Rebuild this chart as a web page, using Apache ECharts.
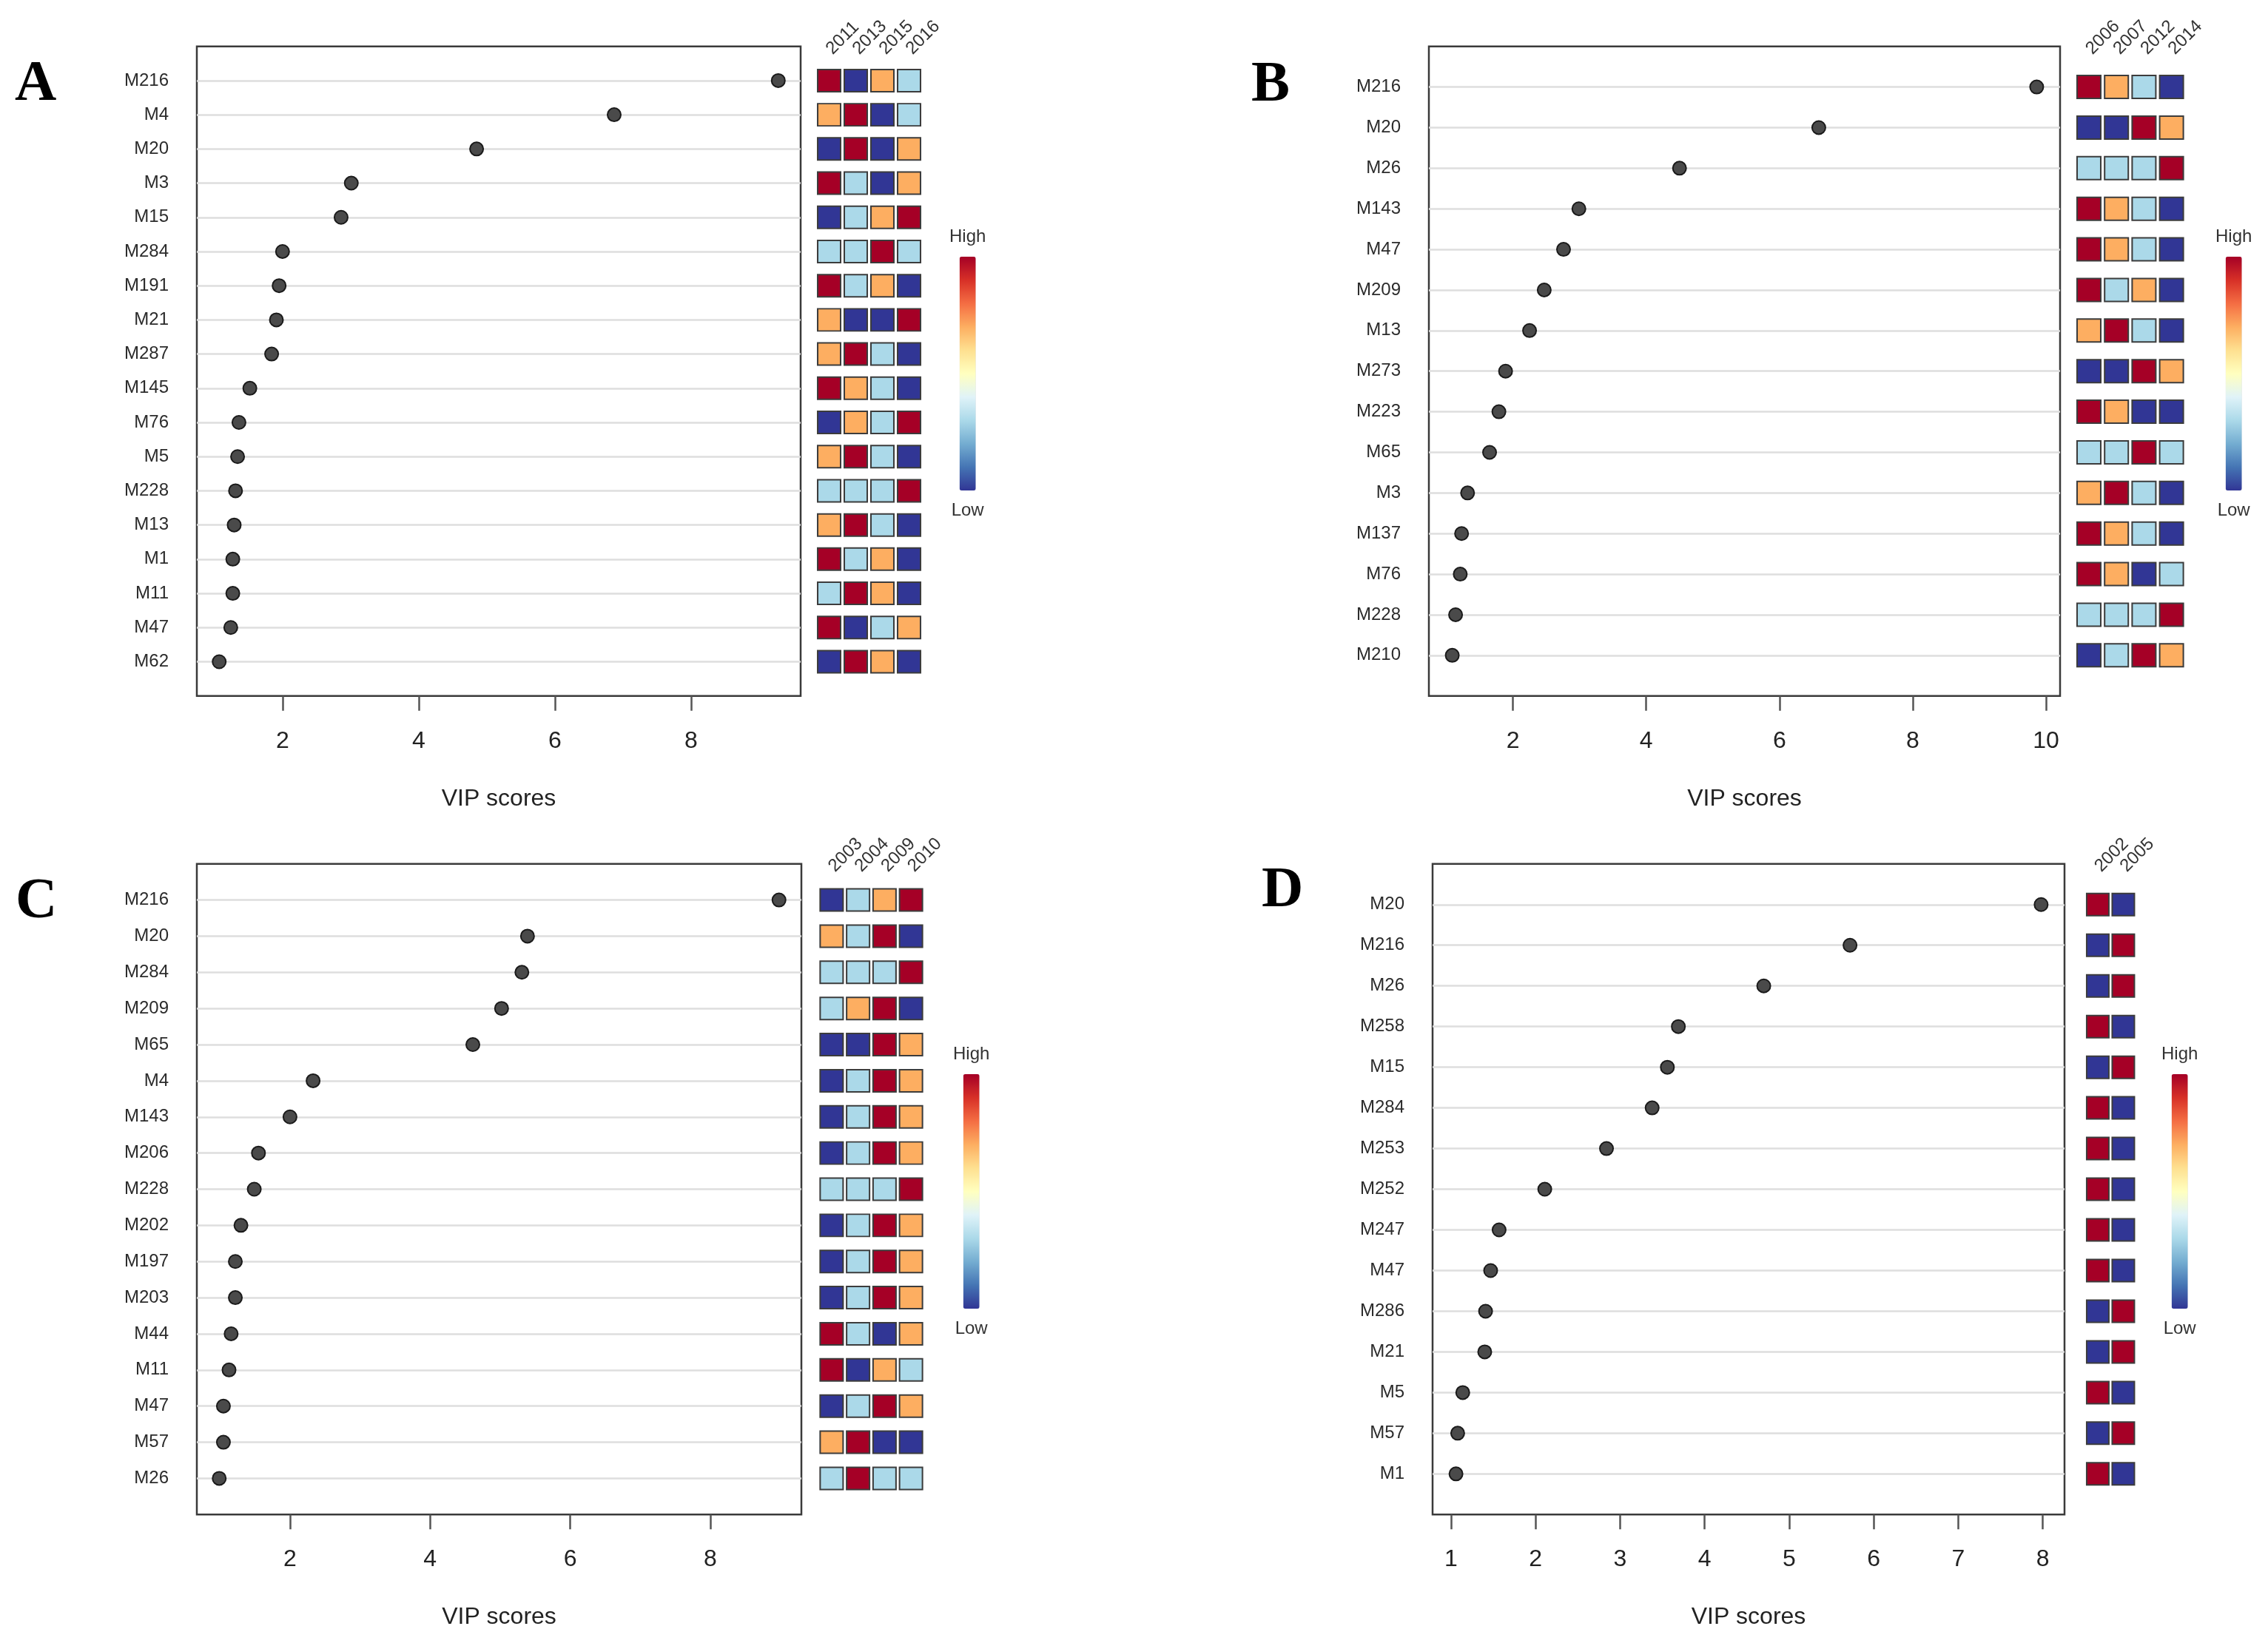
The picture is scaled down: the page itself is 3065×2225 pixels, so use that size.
<!DOCTYPE html>
<html>
<head>
<meta charset="utf-8">
<script src="https://cdn.jsdelivr.net/npm/echarts@6/dist/echarts.min.js"></script>
<style>
html,body{margin:0;padding:0;background:#fff;}
#chart{width:3065px;height:2225px;}
</style>
</head>
<body>
<div id="chart"></div>
<script>
// ---------- DATA ----------
const namesA = ['M216','M4','M20','M3','M15','M284','M191','M21','M287','M145','M76','M5','M228','M13','M1','M11','M47','M62'];
const vipA = [9.28, 6.87, 4.85, 3.01, 2.86, 2.00, 1.95, 1.91, 1.84, 1.52, 1.36, 1.34, 1.31, 1.29, 1.27, 1.27, 1.24, 1.07];
const yearsA = ['2011','2013','2015','2016'];
// levels: 1 = low (dark blue), 2 = light blue, 3 = orange, 4 = high (dark red)
const levelsA = [[4,1,3,2],[3,4,1,2],[1,4,1,3],[4,2,1,3],[1,2,3,4],[2,2,4,2],[4,2,3,1],[3,1,1,4],[3,4,2,1],[4,3,2,1],[1,3,2,4],[3,4,2,1],[2,2,2,4],[3,4,2,1],[4,2,3,1],[2,4,3,1],[4,1,2,3],[1,4,3,1]];
const ticksA = [2,4,6,8];

const namesB = ['M216','M20','M26','M143','M47','M209','M13','M273','M223','M65','M3','M137','M76','M228','M210'];
const vipB = [9.86, 6.59, 4.50, 2.99, 2.76, 2.47, 2.25, 1.89, 1.79, 1.65, 1.32, 1.23, 1.21, 1.14, 1.09];
const yearsB = ['2006','2007','2012','2014'];
const levelsB = [[4,3,2,1],[1,1,4,3],[2,2,2,4],[4,3,2,1],[4,3,2,1],[4,2,3,1],[3,4,2,1],[1,1,4,3],[4,3,1,1],[2,2,4,2],[3,4,2,1],[4,3,2,1],[4,3,1,2],[2,2,2,4],[1,2,4,3]];
const ticksB = [2,4,6,8,10];

const namesC = ['M216','M20','M284','M209','M65','M4','M143','M206','M228','M202','M197','M203','M44','M11','M47','M57','M26'];
const vipC = [8.98, 5.39, 5.31, 5.02, 4.61, 2.33, 2.00, 1.55, 1.49, 1.30, 1.22, 1.22, 1.16, 1.13, 1.05, 1.05, 0.99];
const yearsC = ['2003','2004','2009','2010'];
const levelsC = [[1,2,3,4],[3,2,4,1],[2,2,2,4],[2,3,4,1],[1,1,4,3],[1,2,4,3],[1,2,4,3],[1,2,4,3],[2,2,2,4],[1,2,4,3],[1,2,4,3],[1,2,4,3],[4,2,1,3],[4,1,3,2],[1,2,4,3],[3,4,1,1],[2,4,2,2]];
const ticksC = [2,4,6,8];

const namesD = ['M20','M216','M26','M258','M15','M284','M253','M252','M247','M47','M286','M21','M5','M57','M1'];
const vipD = [7.98, 5.72, 4.70, 3.69, 3.56, 3.38, 2.84, 2.11, 1.57, 1.47, 1.41, 1.40, 1.14, 1.08, 1.06];
const yearsD = ['2002','2005'];
const levelsD = [[4,1],[1,4],[1,4],[4,1],[1,4],[4,1],[4,1],[4,1],[4,1],[4,1],[1,4],[1,4],[4,1],[1,4],[4,1]];
const ticksD = [1,2,3,4,5,6,7,8];

const panelLetters = ['A','B','C','D'];
const xAxisName = 'VIP scores';
const legendText = ['High','Low'];

// ---------- STYLE / LAYOUT ----------
const RdYlBu = ['#313695','#4575b4','#74add1','#abd9e9','#e0f3f8','#ffffbf','#fee090','#fdae61','#f46d43','#d73027','#a50026'];
const LEVEL_POS = [null, 0, 3, 7, 10]; // position of each level on the RdYlBu ramp
const FONT = 'Liberation Sans';

const layouts = [
  {box:{l:266,  t:62.7,   w:816, h:878},   heat:{l:1102.5, w:144},   cell:[31,30], vm:{l:1283, t:308},  vmH:316, title:{l:20,   t:76}},
  {box:{l:1931, t:62.7,   w:853, h:878},   heat:{l:2804.4, w:148.8}, cell:[32,31], vm:{l:2994, t:308},  vmH:316, title:{l:1691, t:77}},
  {box:{l:266,  t:1167.7, w:817, h:879.6}, heat:{l:1106,   w:143},   cell:[31,30], vm:{l:1288, t:1413}, vmH:317, title:{l:21,   t:1181}},
  {box:{l:1936, t:1167.8, w:854, h:879.5}, heat:{l:2817.7, w:69},    cell:[30,30], vm:{l:2921, t:1413}, vmH:317, title:{l:1705, t:1166}}
];

const panelData = [
  {names:namesA, vip:vipA, years:yearsA, levels:levelsA, ticks:ticksA},
  {names:namesB, vip:vipB, years:yearsB, levels:levelsB, ticks:ticksB},
  {names:namesC, vip:vipC, years:yearsC, levels:levelsC, ticks:ticksC},
  {names:namesD, vip:vipD, years:yearsD, levels:levelsD, ticks:ticksD}
];

const option = {
  animation: false,
  backgroundColor: '#ffffff',
  title: [], grid: [], xAxis: [], yAxis: [], series: [], visualMap: []
};

panelData.forEach((p, i) => {
  const L = layouts[i];
  const lo = Math.min(...p.vip), hi = Math.max(...p.vip);
  const pad = (hi - lo) * 0.04;
  const cats = [' '].concat(p.names, ['  ']);

  option.title.push({
    text: panelLetters[i], left: L.title.l, top: L.title.t, padding: 0,
    textStyle: {fontFamily: 'Liberation Serif', fontWeight: 'bold', fontSize: 78, color: '#000'}
  });

  const gDot = option.grid.length;
  option.grid.push({left: L.box.l, top: L.box.t, width: L.box.w, height: L.box.h,
    show: true, borderColor: '#3a3a3a', borderWidth: 2.5, backgroundColor: 'transparent'});
  const gHeat = option.grid.length;
  option.grid.push({left: L.heat.l, top: L.box.t, width: L.heat.w, height: L.box.h, show: false});

  const xDot = option.xAxis.length;
  option.xAxis.push({
    type: 'value', gridIndex: gDot, min: lo - pad, max: hi + pad,
    axisLine: {show: false},
    axisTick: {show: true, length: 20, customValues: p.ticks, lineStyle: {color: '#555', width: 2.5}},
    axisLabel: {customValues: p.ticks, fontSize: 32, color: '#222', fontFamily: FONT, margin: 45},
    splitLine: {show: false},
    name: xAxisName, nameLocation: 'middle', nameGap: 123,
    nameTextStyle: {fontSize: 32, color: '#222', fontFamily: FONT}
  });
  const xHeat = option.xAxis.length;
  option.xAxis.push({
    type: 'category', gridIndex: gHeat, data: p.years, position: 'top',
    axisLine: {show: false}, axisTick: {show: false},
    axisLabel: {interval: 0, rotate: -45, fontSize: 24, color: '#333', fontFamily: FONT, margin: -7},
    splitLine: {show: false}
  });

  const yDot = option.yAxis.length;
  option.yAxis.push({
    type: 'category', gridIndex: gDot, data: cats, inverse: true, boundaryGap: false,
    axisLine: {show: false}, axisTick: {show: false},
    axisLabel: {interval: 0, fontSize: 24, color: '#2b2b2b', fontFamily: FONT, margin: 38},
    splitLine: {show: true, interval: 0, showMinLine: false, showMaxLine: false,
      lineStyle: {color: '#dedede', width: 2.5}}
  });
  const yHeat = option.yAxis.length;
  option.yAxis.push({
    type: 'category', gridIndex: gHeat, data: cats, inverse: true, boundaryGap: false, show: false
  });

  option.series.push({
    type: 'scatter', xAxisIndex: xDot, yAxisIndex: yDot,
    symbol: 'circle', symbolSize: 18,
    itemStyle: {color: '#4a4a4a', borderColor: '#1a1a1a', borderWidth: 2, opacity: 1},
    data: p.names.map((n, k) => [p.vip[k], n]),
    z: 3
  });

  const heatData = [];
  p.names.forEach((n, r) => {
    p.years.forEach((yr, c) => heatData.push([yr, n, LEVEL_POS[p.levels[r][c]]]));
  });
  const sHeat = option.series.length;
  option.series.push({
    type: 'scatter', xAxisIndex: xHeat, yAxisIndex: yHeat,
    symbol: 'rect', symbolSize: L.cell,
    itemStyle: {borderColor: '#3c3c3c', borderWidth: 2, opacity: 1},
    data: heatData, z: 3
  });

  option.visualMap.push({
    type: 'continuous', seriesIndex: sHeat, dimension: 2, min: 0, max: 10,
    calculable: false, orient: 'vertical', left: L.vm.l, top: L.vm.t,
    itemWidth: 22, itemHeight: L.vmH, padding: 0, textGap: 15,
    text: legendText, textStyle: {fontSize: 24, color: '#333', fontFamily: FONT},
    inRange: {color: RdYlBu}
  });
});

const chart = echarts.init(document.getElementById('chart'), null, {renderer: 'canvas', width: 3065, height: 2225});
chart.setOption(option);
</script>
</body>
</html>
